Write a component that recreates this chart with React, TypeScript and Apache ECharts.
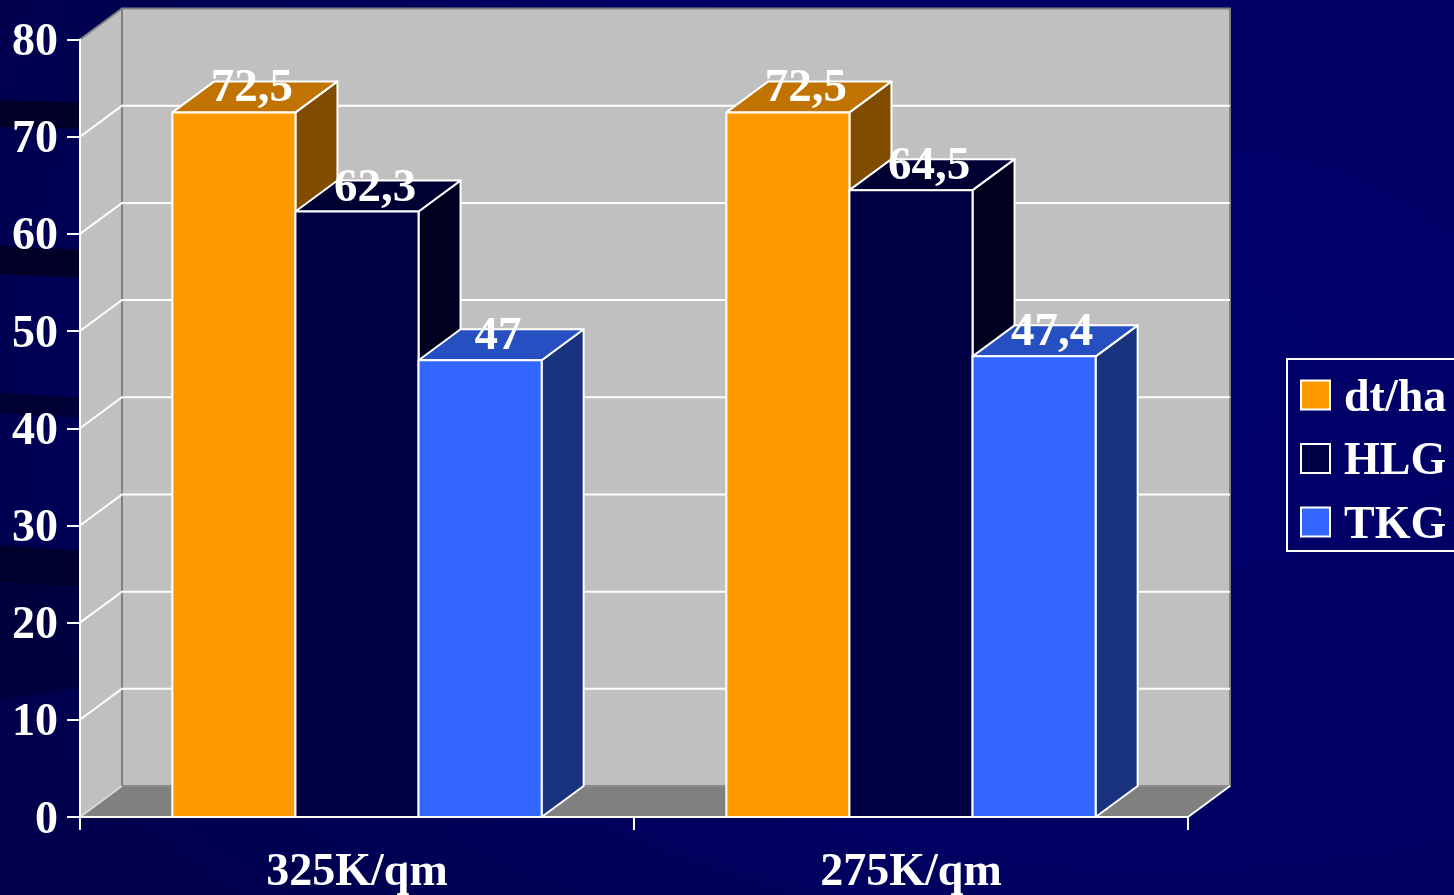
import React, { useEffect, useRef } from 'react';
import * as echarts from 'echarts';

// ---- data ----
const categories = ['325K/qm', '275K/qm'];
const seriesNames = ['dt/ha', 'HLG', 'TKG'];
const dtHa = [72.5, 72.5];
const hlg = [62.3, 64.5];
const tkg = [47, 47.4];
const yTicks = [0, 10, 20, 30, 40, 50, 60, 70, 80];

const seriesValues = [dtHa, hlg, tkg];

// ---- style ----
const FONT = '"Liberation Serif", "Times New Roman", Times, serif';
const DX = 42;
const DY = 31;
const BAR_RATIO = 0.2222;
const faces = [
  { front: '#ff9900', top: '#c07300', side: '#7f4c00' },
  { front: '#000044', top: '#000033', side: '#00001f' },
  { front: '#3366ff', top: '#2650c2', side: '#19337f' },
];

const fmt = (v: number) => String(v).replace('.', ',');

function makeBarRender(si: number) {
  return (params: any, api: any) => {
    const c = api.value(0);
    const v = api.value(1);
    const p0 = api.coord([c, 0]);
    const p1 = api.coord([c, v]);
    const band = api.size([1, 0])[0];
    const bw = band * BAR_RATIO;
    const x0 = p0[0] + (si - 1.5) * bw;
    const x1 = x0 + bw;
    const yb = p0[1];
    const yt = p1[1];
    const f = faces[si];
    const stroke = { stroke: '#ffffff', lineWidth: 2, lineJoin: 'round' };
    return {
      type: 'group',
      children: [
        {
          type: 'polygon',
          shape: { points: [[x1, yb], [x1 + DX, yb - DY], [x1 + DX, yt - DY], [x1, yt]] },
          style: { fill: f.side, ...stroke },
        },
        {
          type: 'polygon',
          shape: { points: [[x0, yt], [x0 + DX, yt - DY], [x1 + DX, yt - DY], [x1, yt]] },
          style: { fill: f.top, ...stroke },
        },
        {
          type: 'rect',
          shape: { x: x0, y: yt, width: bw, height: yb - yt },
          style: { fill: f.front, ...stroke },
        },
        {
          type: 'text',
          x: (x0 + x1) / 2 + 18,
          y: yt - 27,
          z2: 100,
          style: {
            text: fmt(v),
            fill: '#ffffff',
            font: `bold 47px ${FONT}`,
            align: 'center',
            verticalAlign: 'middle',
          },
        },
      ],
    };
  };
}

function renderWalls(params: any, api: any) {
  const cs = params.coordSys;
  const L = cs.x;
  const R = cs.x + cs.width;
  const yBot = api.coord([0, yTicks[0]])[1];
  const yTop = api.coord([0, yTicks[yTicks.length - 1]])[1];
  const children: any[] = [
    {
      type: 'polygon',
      shape: { points: [[L, yTop], [L + DX, yTop - DY], [L + DX, yBot - DY], [L, yBot]] },
      style: { fill: '#c0c0c0' },
    },
    {
      type: 'rect',
      shape: { x: L + DX, y: yTop - DY, width: R - L, height: yBot - yTop },
      style: { fill: '#c0c0c0', stroke: '#808080', lineWidth: 2 },
    },
    {
      type: 'polygon',
      shape: { points: [[L, yBot], [L + DX, yBot - DY], [R + DX, yBot - DY], [R, yBot]] },
      style: { fill: '#808080' },
    },
    {
      type: 'line',
      shape: { x1: L + DX, y1: yBot - DY, x2: R + DX, y2: yBot - DY },
      style: { stroke: '#8a8a8a', lineWidth: 2 },
    },
    {
      type: 'line',
      shape: { x1: R, y1: yBot, x2: R + DX, y2: yBot - DY },
      style: { stroke: '#ffffff', lineWidth: 2 },
    },
    {
      type: 'line',
      shape: { x1: L, y1: yBot, x2: L + DX, y2: yBot - DY },
      style: { stroke: '#d8d8d8', lineWidth: 2 },
    },
    {
      type: 'line',
      shape: { x1: L, y1: yTop, x2: L + DX, y2: yTop - DY },
      style: { stroke: '#808080', lineWidth: 2 },
    },
    {
      type: 'line',
      shape: { x1: L + DX, y1: yTop - DY, x2: L + DX, y2: yBot - DY },
      style: { stroke: '#808080', lineWidth: 2 },
    },
  ];
  yTicks.slice(1, -1).forEach((t) => {
    const y = api.coord([0, t])[1];
    children.push({
      type: 'polyline',
      shape: { points: [[L, y], [L + DX, y - DY], [R + DX, y - DY]] },
      style: { stroke: '#ffffff', lineWidth: 2, fill: null },
    });
  });
  return { type: 'group', children };
}

export default function App() {
  const ref = useRef<HTMLDivElement>(null);
  useEffect(() => {
    if (!ref.current) return;
    const chart = echarts.init(ref.current, null, { renderer: 'svg' });
    const bandFill = 'rgba(0,0,22,0.7)';
    chart.setOption({
      animation: false,
      backgroundColor: new echarts.graphic.RadialGradient(0.8, 0.4, 0.9, [
        { offset: 0, color: '#00006a' },
        { offset: 0.6, color: '#000064' },
        { offset: 1, color: '#00004c' },
      ]),
      graphic: [
        { type: 'polygon', z: -10, shape: { points: [[0, 100], [130, 104], [130, 130], [0, 127]] }, style: { fill: bandFill } },
        { type: 'polygon', z: -10, shape: { points: [[0, 246], [130, 252], [130, 280], [0, 274]] }, style: { fill: bandFill } },
        { type: 'polygon', z: -10, shape: { points: [[0, 393], [130, 400], [130, 420], [0, 414]] }, style: { fill: 'rgba(0,0,22,0.5)' } },
        { type: 'polygon', z: -10, shape: { points: [[0, 545], [130, 555], [130, 590], [0, 582]] }, style: { fill: 'rgba(0,0,22,0.6)' } },
        { type: 'polygon', z: -10, shape: { points: [[0, 582], [130, 590], [130, 680], [0, 700]] }, style: { fill: 'rgba(0,0,22,0.3)' } },
      ],
      grid: { left: 80, top: 39.5, width: 1108, height: 777.5, containLabel: false },
      legend: {
        orient: 'vertical',
        left: 1287,
        top: 359,
        padding: [13, 10, 6, 13],
        itemGap: 17.5,
        itemWidth: 29,
        itemHeight: 29,
        borderColor: '#ffffff',
        borderWidth: 2,
        icon: 'rect',
        selectedMode: false,
        textStyle: {
          color: '#ffffff',
          fontFamily: FONT,
          fontWeight: 'bold',
          fontSize: 46,
          lineHeight: 46,
          padding: [0, 0, 0, 9],
        },
        data: seriesNames.map((n, i) => ({
          name: n,
          itemStyle: { color: faces[i].front, borderColor: '#ffffff', borderWidth: 2 },
        })),
      },
      xAxis: {
        type: 'category',
        data: categories,
        z: 10,
        axisLine: { lineStyle: { color: '#ffffff', width: 2 } },
        axisTick: { show: true, length: 13, lineStyle: { color: '#ffffff', width: 2 } },
        axisLabel: { color: '#ffffff', fontFamily: FONT, fontWeight: 'bold', fontSize: 46, margin: 29 },
        splitLine: { show: false },
      },
      yAxis: {
        type: 'value',
        min: 0,
        max: 80,
        interval: 10,
        z: 10,
        axisLine: { show: true, lineStyle: { color: '#ffffff', width: 2 } },
        axisTick: { show: true, length: 13, lineStyle: { color: '#ffffff', width: 2 } },
        axisLabel: {
          color: '#ffffff',
          fontFamily: FONT,
          fontWeight: 'bold',
          fontSize: 46,
          margin: 22,
          padding: [7, 0, 0, 0],
        },
        splitLine: { show: false },
      },
      series: [
        {
          type: 'custom',
          name: '__walls',
          z: 1,
          silent: true,
          renderItem: renderWalls,
          data: [[0, 0]],
        },
        ...seriesNames.map((n, si) => ({
          type: 'custom',
          name: n,
          z: 2,
          itemStyle: { color: faces[si].front },
          renderItem: makeBarRender(si),
          encode: { x: 0, y: 1 },
          data: seriesValues[si].map((v, ci) => [ci, v]),
        })),
      ],
    });
    return () => chart.dispose();
  }, []);
  return <div ref={ref} style={{ position: 'fixed', left: 0, top: 0, width: 1454, height: 895 }} />;
}
